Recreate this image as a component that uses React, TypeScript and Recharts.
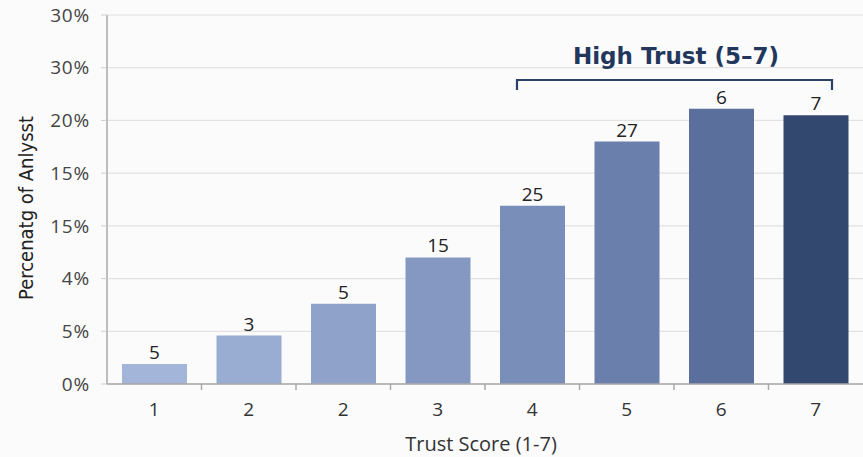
import React from 'react';
import { BarChart, Bar, XAxis, YAxis, CartesianGrid, Cell, LabelList } from 'recharts';

const CATEGORIES = ['1', '2', '2', '3', '4', '5', '6', '7'];
const SHARE = [1.9, 4.6, 7.6, 12.0, 16.9, 23.0, 26.1, 25.5];
const BAR_LABELS = ['5', '3', '5', '15', '25', '27', '6', '7'];
const Y_TICKS = [0, 5, 10, 15, 20, 25, 30, 35];
const Y_TICK_LABELS = ['0%', '5%', '4%', '15%', '15%', '20%', '30%', '30%'];
const BAR_COLORS = ['#a3b5d8', '#99acd2', '#8fa3ca', '#8598c1', '#798eb9', '#6a7fab', '#5a6f9b', '#33486e'];

const W = 863;
const H = 457;
const FONT = '"Open Sans", "Noto Sans", sans-serif';

const data = CATEGORIES.map((c, i) => ({
  cat: c,
  share: SHARE[i],
  label: BAR_LABELS[i],
}));

const XTick = (props: any) => {
  const { x, y, payload, index } = props;
  const half = payload && payload.offset ? payload.offset : 47;
  return (
    <g>
      {index > 0 && <line x1={x - half} x2={x - half} y1={y} y2={y + 6} stroke="#a8a8a8" strokeWidth={1.5} />}
      <text x={x} y={y + 32} textAnchor="middle" fill="#333" fontSize={19} fontFamily={FONT}>
        {payload.value}
      </text>
    </g>
  );
};

export default function App() {
  return (
    <div style={{ position: 'relative', width: W, height: H, background: '#fbfbfb' }}>
      <style>{`body{margin:0}`}</style>
      <BarChart width={W} height={H} data={data} margin={{ top: 15, right: 0, bottom: 0, left: 0 }} barSize={65}>
        <CartesianGrid vertical={false} stroke="#e2e2e2" strokeWidth={1.2} />
        <XAxis
          dataKey="cat"
          height={73}
          tickLine={false}
          tickSize={0}
          tickMargin={0}
          tick={<XTick />}
          interval={0}
          axisLine={{ stroke: '#a8a8a8', strokeWidth: 1.5 }}
          label={{ value: 'Trust Score (1-7)', position: 'insideBottom', offset: 6, dx: -4, fill: '#333', fontSize: 20, fontFamily: FONT }}
        />
        <YAxis
          type="number"
          domain={[0, 35]}
          ticks={Y_TICKS}
          interval={0}
          width={107}
          tickSize={6}
          tickMargin={11}
          tickLine={{ stroke: '#cfcfcf' }}
          axisLine={{ stroke: '#a8a8a8', strokeWidth: 1.5 }}
          tickFormatter={(v: number, i: number) => Y_TICK_LABELS[i]}
          tick={{ fill: '#444', fontSize: 19, fontFamily: FONT, letterSpacing: 0.8 }}
        />
        <Bar dataKey="share" isAnimationActive={false}>
          {data.map((d, i) => (
            <Cell key={`c-${i}`} fill={BAR_COLORS[i]} />
          ))}
          <LabelList dataKey="label" position="top" offset={5} fill="#222" fontSize={19} fontFamily={FONT} />
        </Bar>
      </BarChart>
      <svg width={W} height={H} style={{ position: 'absolute', left: 0, top: 0, pointerEvents: 'none' }}>
        <text
          x={27}
          y={208}
          transform="rotate(-90 27 208)"
          textAnchor="middle"
          dominantBaseline="middle"
          fill="#222"
          fontSize={20}
          fontFamily='"DejaVu Sans Condensed", "Liberation Sans Narrow", sans-serif'
        >
          Percenatg of Anlysst
        </text>
        <text x={676} y={64} textAnchor="middle" fill="#23365c" fontSize={23} fontWeight={700} fontFamily='"DejaVu Sans", sans-serif'>
          High Trust (5–7)
        </text>
        <path d="M517 90 V80 H832 V90" fill="none" stroke="#2c3f66" strokeWidth={2.2} />
      </svg>
    </div>
  );
}
